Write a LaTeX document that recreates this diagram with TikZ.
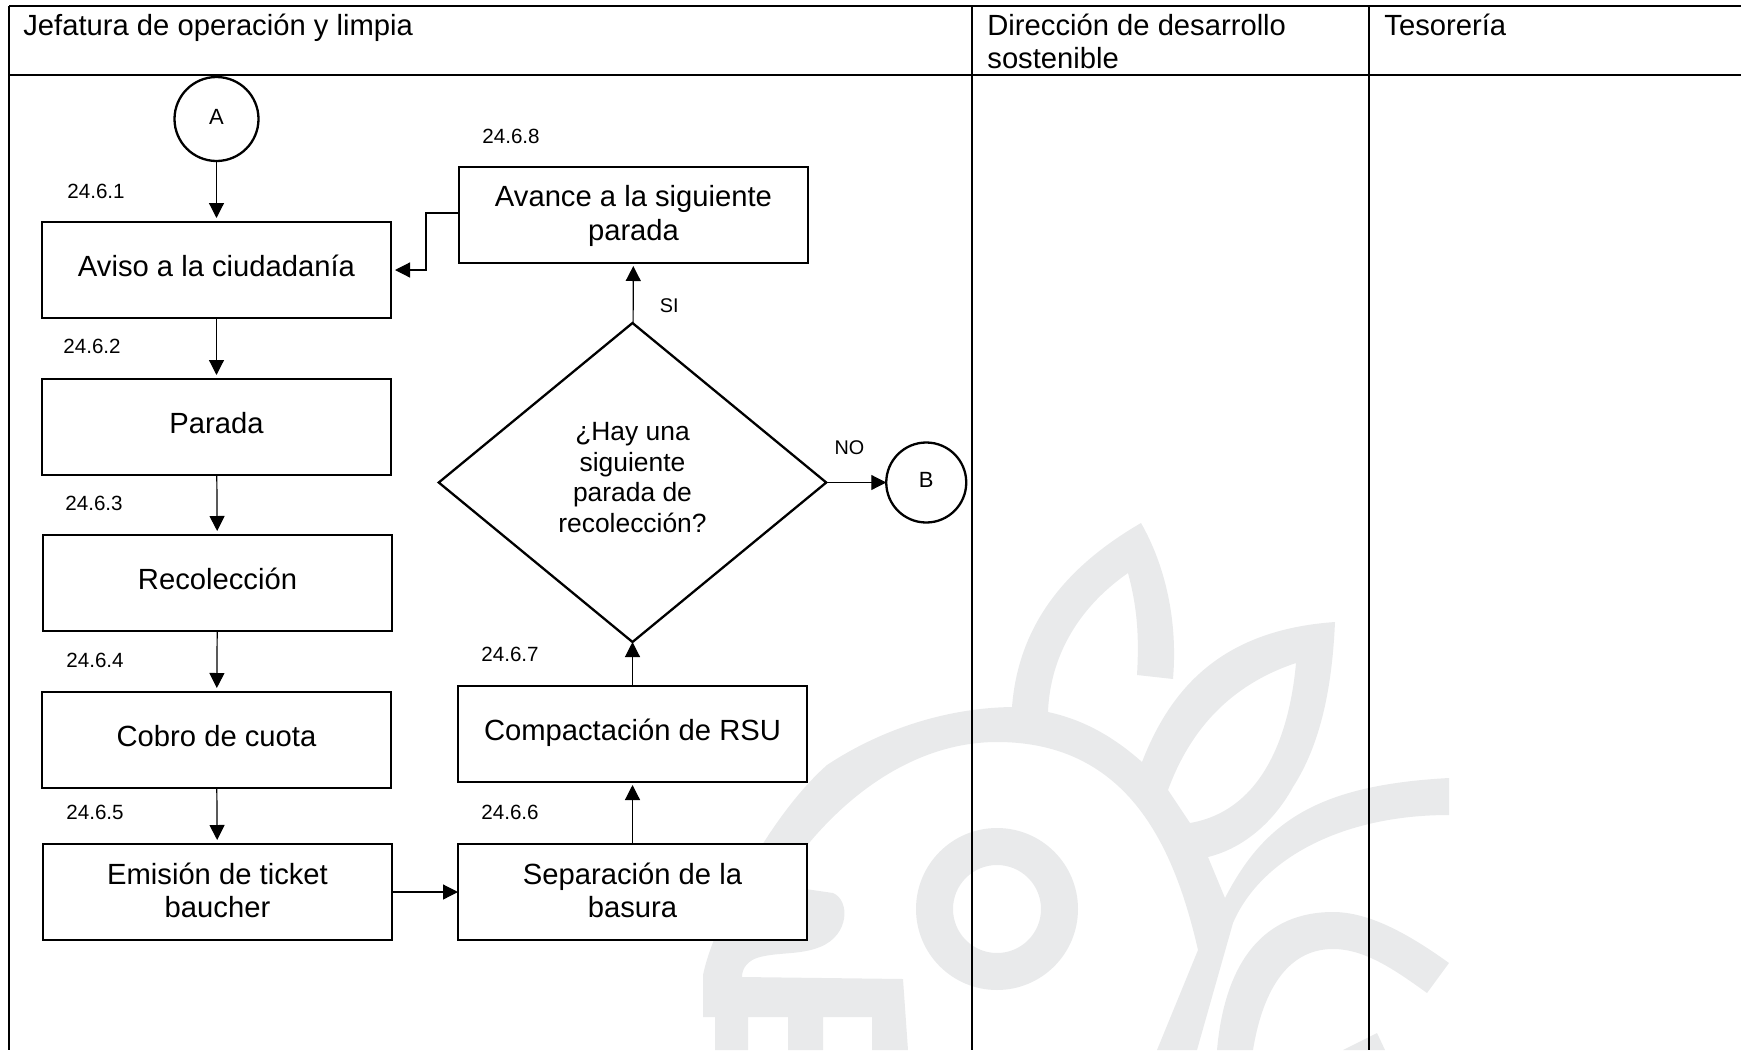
\documentclass[tikz,border=0pt]{standalone}
\usepackage{fontspec}
\setmainfont{Liberation Sans}
\usetikzlibrary{positioning}
\usetikzlibrary{arrows.meta}
\usetikzlibrary{shapes.geometric}
\definecolor{wmarkgray}{HTML}{E9EAEB}
\tikzset{
	stepbox/.style={draw, fill=white, line width=1.15pt, outer sep=0pt, inner sep=0pt, minimum width=174.5pt, minimum height=48pt, font=\fontsize{14.6}{16.7}\selectfont, text height=11pt, text depth=5pt},
	stepboxtwo/.style={stepbox, align=center, text height=, text depth=2pt},
	decisionbox/.style={draw, diamond, line width=1.15pt, outer sep=0pt, inner sep=0pt, minimum width=193.75pt, minimum height=159.5pt, align=center, text depth=5pt, font=\fontsize{13.2}{15.25}\selectfont},
	connector/.style={draw, circle, line width=1.15pt, outer sep=0pt, inner sep=0pt, text depth=2.5pt, font=\fontsize{11}{12}\selectfont},
	numlabel/.style={inner sep=0pt, anchor=south west, font=\fontsize{10.3}{12}\selectfont},
	edgelabel/.style={inner sep=0pt, anchor=south west, font=\fontsize{9.9}{12}\selectfont},
	headlabel/.style={inner sep=0pt, anchor=north west, align=left, font=\fontsize{14.6}{16.6}\selectfont},
	flowline/.style={line width=0.6pt, -{Triangle[length=7.5pt, width=7.5pt]}},
	frameline/.style={line width=1.15pt},
	wmark/.style={fill=wmarkgray, even odd rule}
}

\begin{document}
\begin{tikzpicture}[x=0.5pt, y=-0.5pt]

\useasboundingbox (0,0) rectangle (1741,1050);

\fill[wmark] (1142,762) .. controls (1170,690) and (1220,630) .. (1335,622)
	.. controls (1332,690) and (1320,745) .. (1293,787)
	.. controls (1275,820) and (1245,848) .. (1208,857)
	-- (1225,898) .. controls (1265,820) and (1320,785) .. (1449,778)
	-- (1449,815) .. controls (1340,815) and (1260,860) .. (1233,923)
	-- (1197,1050) -- (1157,1050) -- (1198,950)
	.. controls (1175,850) and (1130,742) .. (997,742)
	.. controls (920,742) and (840,790) .. (778,885)
	-- (833,893) .. controls (850,900) and (850,935) .. (820,947)
	.. controls (800,955) and (780,952) .. (760,957)
	.. controls (748,960) and (742,968) .. (742,977)
	-- (903,979) -- (908,1050) -- (872,1050) -- (872,1017) -- (823,1017) -- (823,1050) -- (788,1050) -- (788,1017) -- (748,1017) -- (748,1050) -- (715,1050) -- (715,1017) -- (703,1017)
	-- (703,975) .. controls (712,930) and (765,820) .. (827,765)
	.. controls (880,730) and (945,708) .. (1012,707)
	.. controls (1018,630) and (1060,570) .. (1141,523)
	.. controls (1165,565) and (1178,620) .. (1173,679)
	-- (1137,675) .. controls (1139,640) and (1138,610) .. (1128,573)
	.. controls (1075,610) and (1050,660) .. (1048,712)
	.. controls (1085,720) and (1115,738) .. (1142,762)
	-- cycle
	(1296,663) .. controls (1290,730) and (1265,810) .. (1190,823)
	-- (1168,790) .. controls (1190,730) and (1230,685) .. (1296,663)
	-- cycle;
\fill[wmark] (997,909) circle[radius=81] (997,909) circle[radius=44];
\fill[wmark] (1217,1050) .. controls (1225,960) and (1265,912) .. (1333,912)
	.. controls (1370,912) and (1410,935) .. (1449,963)
	-- (1427,993) .. controls (1395,970) and (1365,949) .. (1333,949)
	.. controls (1285,949) and (1262,995) .. (1253,1050)
	-- cycle;
\fill[wmark] (1343,1050) -- (1377,1033) -- (1385,1050) -- cycle;

\draw[frameline] (9,6) -- (1741,6);
\draw[frameline] (9,75) -- (1741,75);
\draw[frameline] (9,6) -- (9,1050);
\draw[frameline] (972,6) -- (972,1050);
\draw[frameline] (1369,6) -- (1369,1050);

\node[headlabel] (jefatura) at (23,13.5) {Jefatura de operación y limpia};
\node[headlabel] (direccion) at (987,13.5) {Dirección de desarrollo\\sostenible};
\node[headlabel] (tesoreria) at (1384,13.5) {Tesorería};

\node[stepbox] (aviso) at (216.5,270) {Aviso a la ciudadanía};
\node[stepbox, below=30.5pt of aviso] (parada) {Parada};
\node[stepbox, below=30pt of parada, xshift=0.5pt] (recoleccion) {Recolección};
\node[stepbox, below=30.5pt of recoleccion, xshift=-0.5pt] (cobro) {Cobro de cuota};
\node[stepboxtwo, below=28pt of cobro, xshift=0.5pt] (emision) {Emisión de ticket\\baucher};
\node[stepboxtwo, right=33pt of emision] (separacion) {Separación de la\\basura};
\node[stepbox, above=31pt of separacion] (compactacion) {Compactación de RSU};
\node[decisionbox, above=22pt of compactacion] (decision) {¿Hay una\\siguiente\\parada de\\recolección?};
\node[stepboxtwo, above=30pt of decision, xshift=0.5pt] (avance) {Avance a la siguiente\\parada};

\node[connector, minimum size=42pt, above=30.5pt of aviso] (inicio) {A};
\node[connector, minimum size=40pt, right=30pt of decision] (salida) {B};

\node[numlabel, above right=11.5pt and 12.5pt of aviso.north west] (num1) {24.6.1};
\node[numlabel, above right=12.5pt and 10.5pt of parada.north west] (num2) {24.6.2};
\node[numlabel, above right=12pt and 11pt of recoleccion.north west] (num3) {24.6.3};
\node[numlabel, above right=12pt and 12pt of cobro.north west] (num4) {24.6.4};
\node[numlabel, above right=12pt and 11.5pt of emision.north west] (num5) {24.6.5};
\node[numlabel, above right=12pt and 11.5pt of separacion.north west] (num6) {24.6.6};
\node[numlabel, above right=12pt and 11.5pt of compactacion.north west] (num7) {24.6.7};
\node[numlabel, above right=11.5pt and 11.5pt of avance.north west] (num8) {24.6.8};

\node[edgelabel, above right=5pt and 13.5pt of decision.north] (si) {SI};
\node[edgelabel, above right=13.5pt and 4pt of decision.east] (no) {NO};

\draw[flowline, shorten >=2pt] (inicio) -- (aviso);
\draw[flowline, shorten >=2pt] (aviso) -- (parada);
\draw[flowline, shorten >=2pt] (parada) -- (recoleccion);
\draw[flowline, shorten >=2pt] (recoleccion) -- (cobro);
\draw[flowline, shorten >=2pt] (cobro) -- (emision);
\draw[flowline] (emision) -- (separacion);
\draw[flowline, shorten >=1.5pt] (separacion) -- (compactacion);
\draw[flowline] (compactacion) -- (decision);
\draw[flowline, shorten >=1.5pt] (decision) -- (avance);
\draw[flowline] (decision) -- (salida);
\draw[flowline, shorten >=2pt] (avance.west) ++(0,-2) -- ++(-33,0) |- (aviso.east);

\end{tikzpicture}
\end{document}
